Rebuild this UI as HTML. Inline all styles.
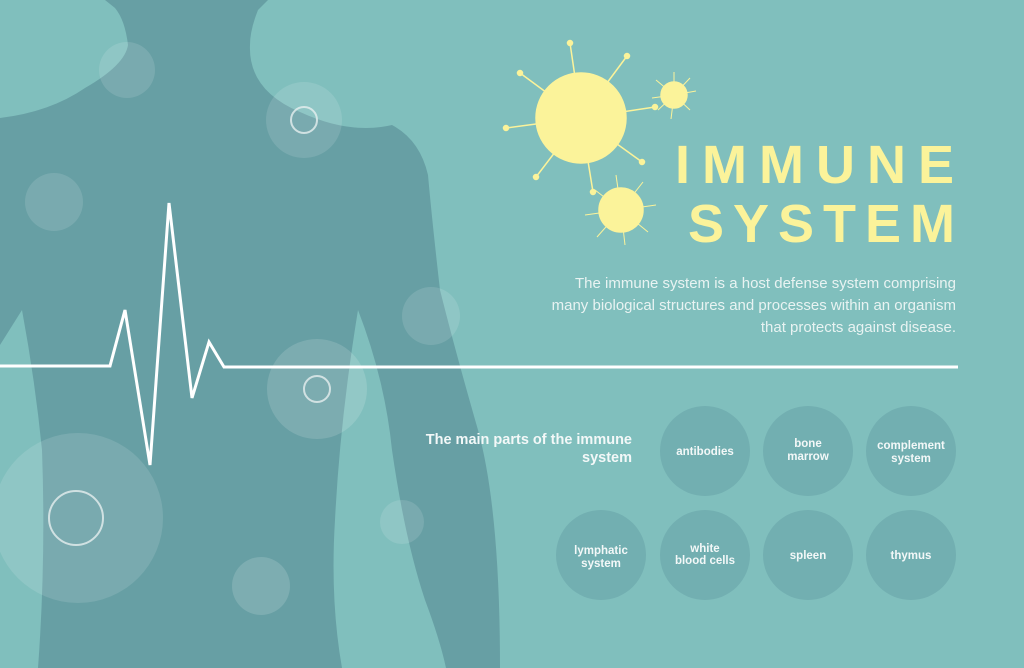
<!DOCTYPE html>
<html><head><meta charset="utf-8"><style>
html,body{margin:0;padding:0;width:1024px;height:668px;overflow:hidden;background:#80bfbd}
svg{display:block}
text{font-family:"Liberation Sans",sans-serif}
</style></head><body>
<svg width="1024" height="668" viewBox="0 0 1024 668" xmlns="http://www.w3.org/2000/svg">
<rect width="1024" height="668" fill="#80bfbd"/>
<path d="M105,0 L268,0 L258,10 Q250,30 250,45 Q248,90 300,112 Q350,135 392,125 Q420,140 428,175 Q432,220 440,290 Q455,350 478,430 Q500,510 500,668 L0,668 L0,118 Q50,112 85,88 Q125,65 128,45 Q125,20 115,8 Z" fill="#679fa4"/>
<path d="M22,310 Q35,380 42,450 Q46,560 38,668 L0,668 L0,345 Z" fill="#80bfbd"/>
<path d="M358,310 Q385,380 392,450 Q405,540 425,600 Q440,640 446,668 L342,668 Q330,600 335,520 Q340,420 358,310 Z" fill="#80bfbd"/>
<g fill="#ffffff">
<circle cx="127" cy="70" r="28" opacity="0.12"/>
<circle cx="304" cy="120" r="38" opacity="0.12"/>
<circle cx="54" cy="202" r="29" opacity="0.12"/>
<circle cx="431" cy="316" r="29" opacity="0.12"/>
<circle cx="317" cy="389" r="50" opacity="0.14"/>
<circle cx="78" cy="518" r="85" opacity="0.12"/>
<circle cx="402" cy="522" r="22" opacity="0.12"/>
<circle cx="261" cy="586" r="29" opacity="0.15"/>
</g>
<g fill="none" stroke="#e6efef" stroke-width="2" opacity="0.8">
<circle cx="304" cy="120" r="13"/>
<circle cx="317" cy="389" r="13"/>
<circle cx="76" cy="518" r="27"/>
</g>
<polyline points="0,366 110,366 125,310 150,465 169,203 192,398 209,342 224,367 958,367" fill="none" stroke="#fff" stroke-width="3" stroke-linejoin="miter"/>
<g stroke="#fbf39a" stroke-width="1.5" fill="#fbf39a">
<line x1="581" y1="118" x2="570" y2="43"/><circle cx="570" cy="43" r="2.5"/>
<line x1="581" y1="118" x2="627" y2="56"/><circle cx="627" cy="56" r="2.5"/>
<line x1="581" y1="118" x2="520" y2="73"/><circle cx="520" cy="73" r="2.5"/>
<line x1="581" y1="118" x2="655" y2="107"/><circle cx="655" cy="107" r="2.5"/>
<line x1="581" y1="118" x2="506" y2="128"/><circle cx="506" cy="128" r="2.5"/>
<line x1="581" y1="118" x2="642" y2="162"/><circle cx="642" cy="162" r="2.5"/>
<line x1="581" y1="118" x2="536" y2="177"/><circle cx="536" cy="177" r="2.5"/>
<line x1="581" y1="118" x2="593" y2="192"/><circle cx="593" cy="192" r="2.5"/>
<circle cx="581" cy="118" r="45"/>
<g stroke-width="1">
<line x1="674" y1="95" x2="674" y2="72"/><line x1="674" y1="95" x2="690" y2="78"/><line x1="674" y1="95" x2="696" y2="91"/><line x1="674" y1="95" x2="690" y2="110"/><line x1="674" y1="95" x2="671" y2="119"/><line x1="674" y1="95" x2="658" y2="110"/><line x1="674" y1="95" x2="652" y2="98"/><line x1="674" y1="95" x2="656" y2="80"/>
<line x1="621" y1="210" x2="616" y2="175"/><line x1="621" y1="210" x2="643" y2="182"/><line x1="621" y1="210" x2="656" y2="205"/><line x1="621" y1="210" x2="648" y2="232"/><line x1="621" y1="210" x2="625" y2="245"/><line x1="621" y1="210" x2="597" y2="237"/><line x1="621" y1="210" x2="585" y2="215"/><line x1="621" y1="210" x2="595" y2="190"/>
</g>
<circle cx="674" cy="95" r="13"/>
<circle cx="621" cy="210" r="22"/>
</g>
<g fill="#fbf39a" font-weight="bold" font-size="54" text-anchor="end">
<text x="966" y="183" letter-spacing="12">IMMUNE</text>
<text x="964" y="242" letter-spacing="9">SYSTEM</text>
</g>
<g fill="#e8f3f2" font-size="15" text-anchor="end">
<text x="956" y="288">The immune system is a host defense system comprising</text>
<text x="956" y="310">many biological structures and processes within an organism</text>
<text x="956" y="332">that protects against disease.</text>
</g>
<g fill="#f3f8f8" font-size="14.5" font-weight="bold" text-anchor="end">
<text x="632" y="444">The main parts of the immune</text>
<text x="632" y="462">system</text>
</g>
<g fill="#72afb1">
<circle cx="705" cy="451" r="45"/><circle cx="808" cy="451" r="45"/><circle cx="911" cy="451" r="45"/>
<circle cx="601" cy="555" r="45"/><circle cx="705" cy="555" r="45"/><circle cx="808" cy="555" r="45"/><circle cx="911" cy="555" r="45"/>
</g>
<g fill="#f3f8f8" font-size="11.5" font-weight="bold" text-anchor="middle">
<text x="705" y="455">antibodies</text>
<text x="808" y="447">bone</text><text x="808" y="460">marrow</text>
<text x="911" y="449">complement</text><text x="911" y="462">system</text>
<text x="601" y="554">lymphatic</text><text x="601" y="567">system</text>
<text x="705" y="552">white</text><text x="705" y="564">blood cells</text>
<text x="808" y="559">spleen</text>
<text x="911" y="559">thymus</text>
</g>
</svg>
</body></html>
